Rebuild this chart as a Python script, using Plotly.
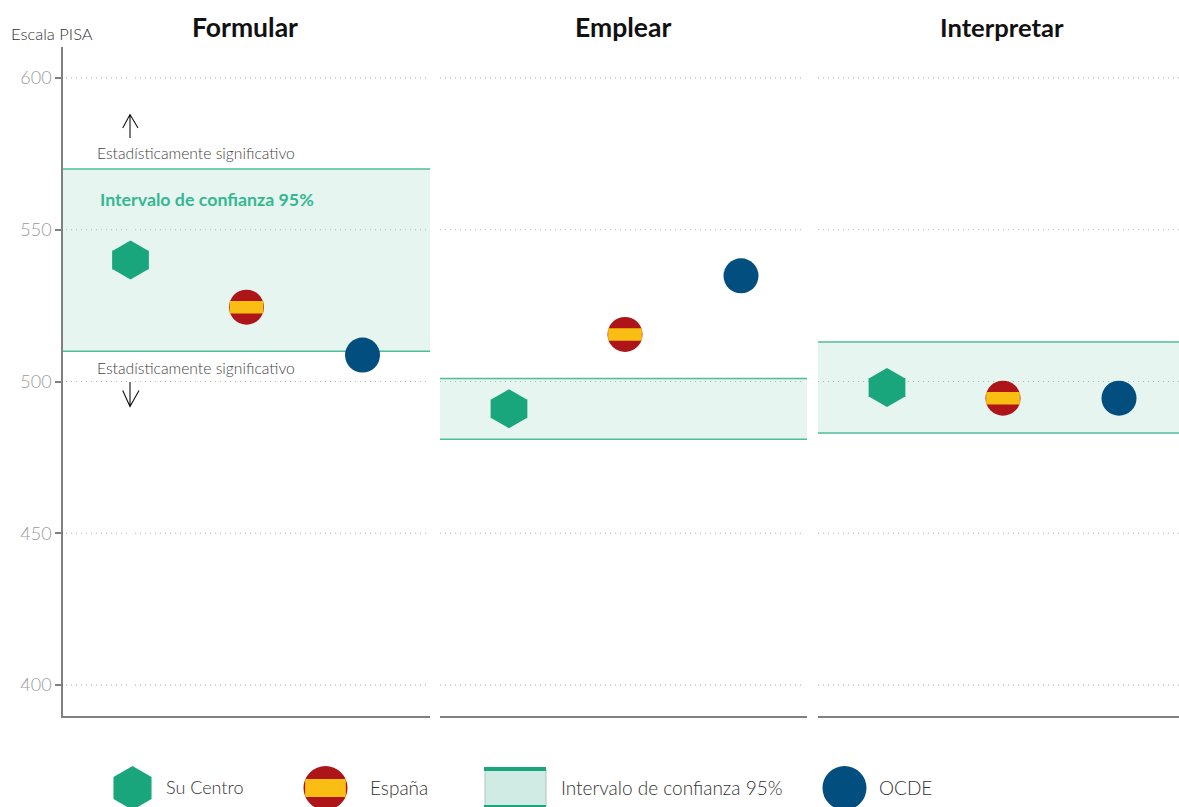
import plotly.graph_objects as go

panels = ["Formular", "Emplear", "Interpretar"]
entities = ["Su Centro", "España", "OCDE"]
centro = [540, 491, 498]
espana = [524.5, 515.5, 494.5]
ocde = [508.7, 534.8, 494.5]
ci_low = [510, 481, 483]
ci_high = [570, 501, 513]
y_ticks = [400, 450, 500, 550, 600]

W, H = 1179, 807
GREEN, RED, YEL, BLUE = "#1aa67d", "#ad1519", "#fabd14", "#024e7e"
BAND, BAND_LINE = "#e6f5f0", "#4dbd9c"
AX = "#808080"
FONT = "Lato Light, Lato, sans-serif"

px_left = [63, 440, 818]
px_right = [430, 807, 1179]
px_first = [130.5, 509, 887]
SPACING = 116.0
LINE_K = 1.41  # line-ew half-length relative to marker radius

fig = go.Figure()
shapes, ann = [], []
grid_spans = [[(66, 127), (135, 427)], [(440, 805)], [(818, 1179)]]
for i in range(3):
    n = "" if i == 0 else str(i + 1)
    xa, ya = "x" + n, "y" + n
    width = px_right[i] - px_left[i]
    lo = (px_left[i] - px_first[i]) / SPACING
    fig.update_layout({
        "xaxis" + n: dict(domain=[px_left[i] / W, px_right[i] / W],
                          range=[lo, lo + width / SPACING],
                          showgrid=False, zeroline=False, showticklabels=False, ticks="",
                          showline=True, linecolor=AX, linewidth=1.5, anchor=ya,
                          tickvals=[0, 1, 2], fixedrange=True),
        "yaxis" + n: dict(domain=[1 - 716 / H, 1 - 47 / H], range=[389.8, 610.2],
                          tickvals=y_ticks, showgrid=False, zeroline=False,
                          showline=(i == 0), linecolor=AX, linewidth=1.5,
                          ticks="outside" if i == 0 else "", ticklen=6, tickcolor=AX, tickwidth=1.5,
                          showticklabels=(i == 0), anchor=xa, fixedrange=True,
                          tickfont=dict(family=FONT, size=18, color="#9a9a9a")),
    })
    shapes.append(dict(type="rect", xref=xa + " domain", yref=ya, x0=0, x1=1,
                       y0=ci_low[i], y1=ci_high[i], fillcolor=BAND, line_width=0, layer="below"))
    for v in (ci_low[i], ci_high[i]):
        shapes.append(dict(type="line", xref=xa + " domain", yref=ya, x0=0, x1=1, y0=v, y1=v,
                           line=dict(color=BAND_LINE, width=1.5), layer="below"))
    for t in y_ticks:
        for a, b in grid_spans[i]:
            shapes.append(dict(type="line", xref=xa + " domain", yref=ya,
                               x0=(a - px_left[i]) / width, x1=(b - px_left[i]) / width, y0=t, y1=t,
                               line=dict(color="#b5b5b5", width=1.2, dash="1px 4px"), layer="below"))
    ann.append(dict(text="<b>%s</b>" % panels[i], xref="paper", yref="paper",
                    x=[245, 622.5, 1002][i] / W, y=1 - 27 / H, showarrow=False,
                    xanchor="center", yanchor="middle",
                    font=dict(family="Lato, sans-serif", size=[26.5, 26.5, 25.6][i], color="#111111")))
    k = dict(xaxis=xa, yaxis=ya, mode="markers", showlegend=False, hoverinfo="skip", cliponaxis=False)
    fig.add_trace(go.Scatter(x=[0], y=[centro[i]], marker=dict(symbol="hexagon", size=39, color=GREEN), **k))
    fig.add_trace(go.Scatter(x=[0], y=[centro[i]], marker=dict(symbol="line-ew", size=37 / LINE_K, line=dict(color=GREEN, width=19)), **k))
    fig.add_trace(go.Scatter(x=[1], y=[espana[i]], marker=dict(symbol="circle", size=35, color=RED), **k))
    fig.add_trace(go.Scatter(x=[1], y=[espana[i]], marker=dict(symbol="line-ew", size=34 / LINE_K, line=dict(color=YEL, width=12.5)), **k))
    fig.add_trace(go.Scatter(x=[2], y=[ocde[i]], marker=dict(symbol="circle", size=35, color=BLUE), **k))

def txt(s, x, y, size, color, family=FONT):
    ann.append(dict(text=s, xref="paper", yref="paper", x=(x - 2) / W, y=1 - y / H, showarrow=False,
                    xanchor="left", yanchor="middle", font=dict(family=family, size=size, color=color)))

txt("Escala PISA", 11, 34, 16.5, "#333333")
txt("Estadísticamente significativo", 97, 153.5, 15.7, "#444444")
txt("Estadísticamente significativo", 97, 367.5, 15.7, "#444444")
txt("<b>Intervalo de confianza 95%</b>", 100, 199, 17.8, "#35b891", family="Lato, sans-serif")

# legend and arrows drawn on their own pixel-scaled hidden axes
fig.update_layout(xaxis4=dict(domain=[0, 1], range=[0, W], visible=False, anchor="y4", fixedrange=True),
                  yaxis4=dict(domain=[0, 1], range=[H, 0], visible=False, anchor="x4", fixedrange=True))
for p in ("M130,138 L130,114.5 M122.7,128 L130,114.5 L138,128",
          "M130,382 L130,406.5 M122.7,390.5 L130,406.5 L139,390.5"):
    shapes.append(dict(type="path", xref="x4", yref="y4", path=p, line=dict(color="#111111", width=1.1)))

k = dict(xaxis="x4", yaxis="y4", mode="markers", showlegend=False, hoverinfo="skip", cliponaxis=True)
LEG_Y = 788
fig.add_trace(go.Scatter(x=[132.5], y=[LEG_Y], marker=dict(symbol="hexagon", size=44, color=GREEN), **k))
fig.add_trace(go.Scatter(x=[325.5], y=[LEG_Y], marker=dict(symbol="circle", size=44, color=RED), **k))
fig.add_trace(go.Scatter(x=[325.5], y=[LEG_Y], marker=dict(symbol="line-ew", size=41 / LINE_K, line=dict(color=YEL, width=18)), **k))
fig.add_trace(go.Scatter(x=[844.5], y=[LEG_Y], marker=dict(symbol="circle", size=44, color=BLUE), **k))
shapes.append(dict(type="rect", xref="x4", yref="y4", x0=485, x1=546, y0=769, y1=806,
                   fillcolor="#d0ebe3", line=dict(color="#b0c4bd", width=1)))
shapes.append(dict(type="line", xref="x4", yref="y4", x0=484, x1=546, y0=769, y1=769, line=dict(color=GREEN, width=4)))
shapes.append(dict(type="line", xref="x4", yref="y4", x0=484, x1=546, y0=806, y1=806, line=dict(color=GREEN, width=2)))
for s, x, sz in ((entities[0], 166, 18), (entities[1], 370, 19), ("Intervalo de confianza 95%", 561, 19), (entities[2], 879, 19)):
    txt(s, x, LEG_Y - 1, sz, "#333333")

fig.update_layout(width=W, height=H, margin=dict(l=0, r=0, t=0, b=0), paper_bgcolor="white",
                  plot_bgcolor="rgba(0,0,0,0)", shapes=shapes, annotations=ann, showlegend=False)
fig.write_html("out.html", config={"displayModeBar": False}, post_script="document.body.style.margin='0';")
